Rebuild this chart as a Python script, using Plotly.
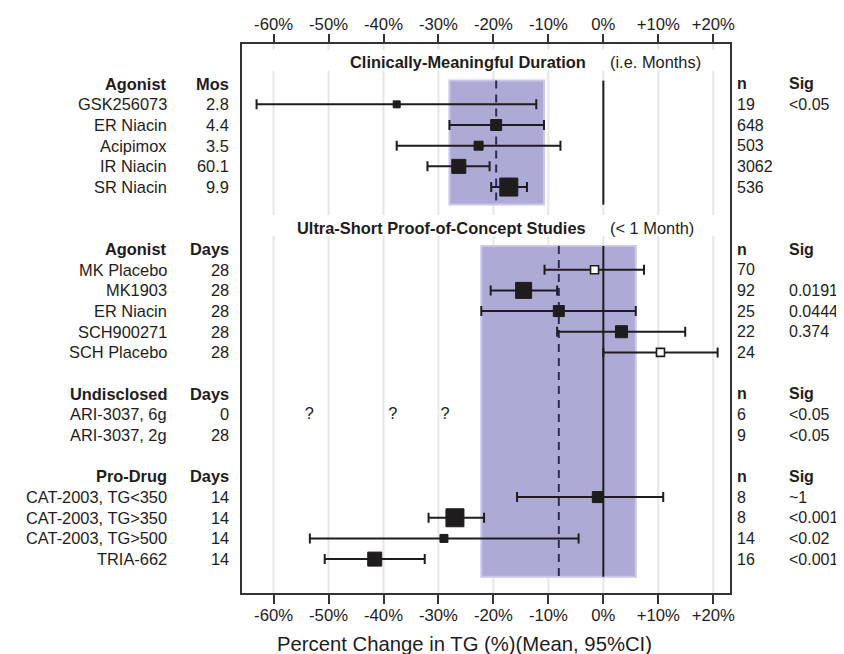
import plotly.graph_objects as go

# ---------------- data ----------------
drugs = ["GSK256073", "ER Niacin", "Acipimox", "IR Niacin", "SR Niacin",
         "MK Placebo", "MK1903", "ER Niacin", "SCH900271", "SCH Placebo",
         "ARI-3037, 6g", "ARI-3037, 2g",
         "CAT-2003, TG<350", "CAT-2003, TG>350", "CAT-2003, TG>500", "TRIA-662"]
duration = ["2.8", "4.4", "3.5", "60.1", "9.9",
            "28", "28", "28", "28", "28",
            "0", "28",
            "14", "14", "14", "14"]
group_of = [0, 0, 0, 0, 0, 1, 1, 1, 1, 1, 2, 2, 3, 3, 3, 3]
mean_pct = [-37.6, -19.5, -22.7, -26.3, -17.2,
            -1.6, -14.5, -8.1, 3.3, 10.4,
            None, None,
            -1.0, -27.0, -29.0, -41.6]
ci_low = [-63.1, -28.0, -37.6, -32.0, -20.4,
          -10.7, -20.5, -22.2, -8.4, 0.0,
          None, None,
          -15.7, -31.8, -53.4, -50.7]
ci_high = [-12.2, -10.8, -7.8, -20.7, -13.9,
           7.4, -8.4, 5.9, 14.9, 20.8,
           None, None,
           10.9, -21.7, -4.5, -32.5]
n_subjects = ["19", "648", "503", "3062", "536",
              "70", "92", "25", "22", "24",
              "6", "9",
              "8", "8", "14", "16"]
sig = ["<0.05", "", "", "", "",
       "", "0.0191", "0.0444", "0.374", "",
       "<0.05", "<0.05",
       "~1", "<0.001", "<0.02", "<0.001"]
placebo = [False, False, False, False, False,
           True, False, False, False, True,
           False, False,
           False, False, False, False]
unknown_marks_x = [-53.5, -38.3, -28.8]   # '?' marks on the ARI-3037, 6g row
unknown_row = 10

group_titles = ["Clinically-Meaningful Duration", "Ultra-Short Proof-of-Concept Studies", None, None]
group_subtitles = ["(i.e. Months)", "(< 1 Month)", None, None]
group_class = ["Agonist", "Agonist", "Undisclosed", "Pro-Drug"]
group_unit = ["Mos", "Days", "Days", "Days"]
reference_rows = [1, 7]            # ER Niacin rows define the shaded bands
band_groups = [[0], [1, 2, 3]]

tick_vals = [-60, -50, -40, -30, -20, -10, 0, 10, 20]
tick_text = ["-60%", "-50%", "-40%", "-30%", "-20%", "-10%", "0%", "+10%", "+20%"]

# ---------------- styles ----------------
marker_px = [7, 11, 9, 14, 18,
             8, 16, 11, 12, 8,
             0, 0,
             11, 18, 8, 14]
INK = "#1f1c1d"
FONT = "Liberation Sans, Arial, Helvetica, sans-serif"
FS = 16.4
FS_RIGHT = 16.0
BAND_FILL = "#aeaad6"
BAND_EDGE = "#c9c6e8"
GRID = "#e6e6e6"
XR = [-65.75, 23.05]

# ---------------- row layout (slot numbers) ----------------
title_slot, header_slot, row_slot = {}, {}, [0] * len(drugs)
slot = 0
for g in range(4):
    if group_titles[g]:
        title_slot[g] = slot
        slot += 1
    header_slot[g] = slot
    slot += 1
    for i in range(len(drugs)):
        if group_of[i] == g:
            row_slot[i] = slot
            slot += 1
    slot += 1
last_slot = max(row_slot)
y_top, y_bot = -0.92, last_slot + 1.64

fig = go.Figure()

# forest points
idx = [i for i in range(len(drugs)) if mean_pct[i] is not None]
fig.add_trace(go.Scatter(
    x=[mean_pct[i] for i in idx],
    y=[row_slot[i] for i in idx],
    mode="markers",
    marker=dict(symbol="square", opacity=1,
                size=[marker_px[i] for i in idx],
                color=["white" if placebo[i] else INK for i in idx],
                line=dict(color=INK, width=[1.6 if placebo[i] else 1 for i in idx])),
    error_x=dict(type="data", symmetric=False,
                 array=[ci_high[i] - mean_pct[i] for i in idx],
                 arrayminus=[mean_pct[i] - ci_low[i] for i in idx],
                 color=INK, thickness=2, width=5),
    showlegend=False, hoverinfo="skip"))

# question marks
fig.add_trace(go.Scatter(
    x=unknown_marks_x, y=[row_slot[unknown_row]] * len(unknown_marks_x),
    mode="text", text=["?"] * len(unknown_marks_x),
    textfont=dict(family=FONT, size=FS, color=INK),
    showlegend=False, hoverinfo="skip"))

# dummy trace so the top axis is drawn
fig.add_trace(go.Scatter(x=[0], y=[0], xaxis="x2", mode="markers",
                         marker=dict(size=0, opacity=0), showlegend=False, hoverinfo="skip"))

shapes = []
# gridlines with gaps behind section titles
gaps = sorted([(title_slot[g] - 0.64, title_slot[g] + 0.37) for g in title_slot])
for tv in tick_vals:
    start = y_top
    for a, b in gaps:
        shapes.append(dict(type="line", xref="x", yref="y", x0=tv, x1=tv, y0=start, y1=a,
                           line=dict(color=GRID, width=2), layer="below"))
        start = b
    shapes.append(dict(type="line", xref="x", yref="y", x0=tv, x1=tv, y0=start, y1=y_bot,
                       line=dict(color=GRID, width=2), layer="below"))

# reference bands, dashed reference mean, zero line
for ref, gs in zip(reference_rows, band_groups):
    y0 = header_slot[gs[0]] - 0.15
    y1 = max(row_slot[i] for i in range(len(drugs)) if group_of[i] in gs) + 0.85
    shapes.append(dict(type="rect", xref="x", yref="y", x0=ci_low[ref], x1=ci_high[ref],
                       y0=y0, y1=y1, fillcolor=BAND_FILL,
                       line=dict(color=BAND_EDGE, width=2), layer="below"))
    shapes.append(dict(type="line", xref="x", yref="y", x0=mean_pct[ref], x1=mean_pct[ref],
                       y0=y0, y1=y1, line=dict(color="#2b2c5c", width=2, dash="8px,6px"),
                       layer="below"))
    shapes.append(dict(type="line", xref="x", yref="y", x0=0, x1=0, y0=y0, y1=y1,
                       line=dict(color=INK, width=2), layer="below"))

annotations = []


def to_paper(xv):
    return (xv - XR[0]) / (XR[1] - XR[0])


def txt(x, y, s, anchor, bold=False, size=FS, yref="y", xref="paper"):
    annotations.append(dict(x=x, y=y, xref=xref, yref=yref, text=f"<b>{s}</b>" if bold else s,
                            showarrow=False, xanchor=anchor, yanchor="middle", borderpad=0,
                            font=dict(family=FONT, size=size, color=INK)))


X_NAME, X_DUR, X_N, X_SIG = to_paper(-79.3), to_paper(-67.9), to_paper(24.1), to_paper(33.6)
for g in range(4):
    if g in title_slot:
        txt(-2.9, title_slot[g] - 0.03, group_titles[g], "right", bold=True, xref="x")
        txt(1.1, title_slot[g] - 0.03, group_subtitles[g], "left", xref="x")
    hs = header_slot[g]
    txt(X_NAME, hs, group_class[g], "right", bold=True)
    txt(X_DUR, hs, group_unit[g], "right", bold=True)
    txt(X_N, hs, "n", "left", bold=True, size=FS_RIGHT)
    txt(X_SIG, hs, "Sig", "left", bold=True, size=FS_RIGHT)
for i in range(len(drugs)):
    txt(X_NAME, row_slot[i], drugs[i], "right")
    txt(X_DUR, row_slot[i], duration[i], "right")
    txt(X_N, row_slot[i], n_subjects[i], "left", size=FS_RIGHT)
    if sig[i]:
        txt(X_SIG, row_slot[i], sig[i], "left", size=FS_RIGHT)

# axis title
txt(to_paper(-25.3), -0.093, "Percent Change in TG (%)(Mean, 95%CI)", "center", size=20.3, yref="paper")

axis_common = dict(range=XR, tickvals=tick_vals, ticktext=tick_text, ticks="outside",
                   ticklen=9, tickwidth=1.5, tickcolor="#333333", showgrid=False, zeroline=False,
                   automargin=False, tickfont=dict(family=FONT, size=16.7, color=INK))
fig.update_layout(
    width=836, height=646,
    margin=dict(l=234, r=114, t=36, b=61, autoexpand=False),
    paper_bgcolor="white", plot_bgcolor="white",
    xaxis=dict(**axis_common, showline=True, mirror=True, linecolor="#333333", linewidth=1.5,
               ticklabelstandoff=-3),
    xaxis2=dict(**axis_common, overlaying="x", side="top", matches="x", anchor="y", showline=False,
                ticklabelstandoff=-3),
    yaxis=dict(range=[y_bot, y_top], showticklabels=False, ticks="", showgrid=False,
               automargin=False, zeroline=False, showline=True, mirror=True,
               linecolor="#333333", linewidth=1.5),
    shapes=shapes, annotations=annotations,
)

fig.write_html("out.html")
